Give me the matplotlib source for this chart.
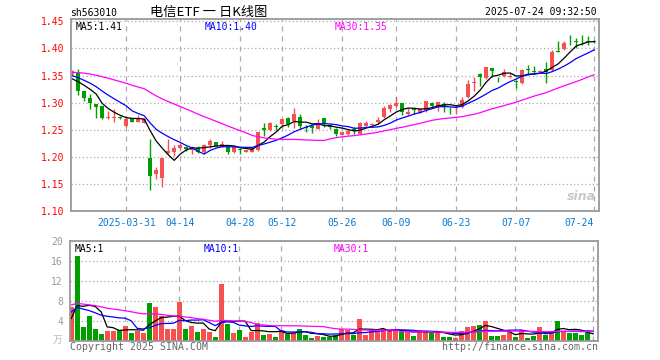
import numpy as np
import pandas as pd
import matplotlib
matplotlib.use("Agg")
import matplotlib.pyplot as plt

plt.rcParams['font.family'] = ['DejaVu Sans Mono', 'Noto Sans CJK SC']

# ---- data ----
code = "sh563010"
title = "电信ETF 一 日K线图"
stamp = "2025-07-24 09:32:50"

opens = [
    1.353, 1.356, 1.321, 1.309, 1.2975, 1.2939, 1.2719, 1.2725, 1.2737, 1.2573,
    1.2725, 1.2640, 1.2616, 1.1987, 1.1689, 1.1603, 1.2067, 1.2091, 1.2170, 1.2177,
    1.2128, 1.2170, 1.2097, 1.2219, 1.2280, 1.2189, 1.2189, 1.2097, 1.2140, 1.2091,
    1.2097, 1.2134, 1.2527, 1.2497, 1.2570, 1.2606, 1.2709, 1.2667, 1.2727, 1.2558,
    1.2570, 1.2515, 1.2709, 1.2588, 1.2509, 1.2394, 1.2424, 1.2509, 1.2424, 1.2576,
    1.2588, 1.2649, 1.2727, 1.2891, 1.2939, 1.2994, 1.2782, 1.2903, 1.2812, 1.2873,
    1.2994, 1.2917, 1.2978, 1.2917, 1.2905, 1.2917, 1.3100, 1.3370, 1.3529, 1.3449,
    1.3633, 1.3455, 1.3498, 1.3476, 1.3382, 1.3357, 1.3605, 1.3575, 1.3566, 1.3615,
    1.3602, 1.3936, 1.3982, 1.4138, 1.4125, 1.4138, 1.4125, 1.4130]
closes = [
    1.358, 1.321, 1.309, 1.2994, 1.292, 1.2719, 1.2737, 1.2737, 1.2719, 1.2707,
    1.2646, 1.2725, 1.2689, 1.1640, 1.1762, 1.1987, 1.2115, 1.2171, 1.2219, 1.2140,
    1.2177, 1.2097, 1.2219, 1.2292, 1.2201, 1.2237, 1.2097, 1.2177, 1.2128, 1.2128,
    1.2158, 1.2457, 1.2497, 1.2630, 1.2545, 1.2697, 1.2600, 1.2788, 1.2576, 1.2539,
    1.2539, 1.2618, 1.2606, 1.2558, 1.2418, 1.2449, 1.2485, 1.2479, 1.2618, 1.2630,
    1.2600, 1.2679, 1.2897, 1.2958, 1.2994, 1.2830, 1.2824, 1.2873, 1.2885, 1.3024,
    1.2930, 1.3009, 1.2941, 1.2911, 1.2917, 1.3051, 1.3345, 1.3376, 1.3468, 1.3651,
    1.3590, 1.3449, 1.3559, 1.3486, 1.3376, 1.3602, 1.3598, 1.3569, 1.3572, 1.3572,
    1.3939, 1.3930, 1.4104, 1.4132, 1.4120, 1.4132, 1.4120, 1.4128]
highs = [
    1.360, 1.362, 1.321, 1.3152, 1.2975, 1.2939, 1.2847, 1.2890, 1.2750, 1.2756,
    1.2725, 1.2768, 1.2725, 1.2329, 1.1811, 1.1987, 1.2335, 1.2213, 1.2249, 1.2201,
    1.2201, 1.2201, 1.2231, 1.2323, 1.2280, 1.2298, 1.2189, 1.2177, 1.2152, 1.2130,
    1.2160, 1.2457, 1.2618, 1.2649, 1.2600, 1.2697, 1.2727, 1.2909, 1.2788, 1.2588,
    1.2606, 1.2697, 1.2721, 1.2606, 1.2527, 1.2449, 1.2509, 1.2545, 1.2649, 1.2661,
    1.2630, 1.2727, 1.2933, 1.2982, 1.3103, 1.2994, 1.2909, 1.2909, 1.2903, 1.3024,
    1.3021, 1.3009, 1.3003, 1.2917, 1.2960, 1.3113, 1.3419, 1.3468, 1.3541, 1.3664,
    1.3633, 1.3480, 1.3615, 1.3541, 1.3419, 1.3615, 1.3688, 1.3676, 1.3602, 1.3755,
    1.3969, 1.4135, 1.4135, 1.4257, 1.4196, 1.4245, 1.4227, 1.4160]
lows = [
    1.351, 1.315, 1.303, 1.2884, 1.2719, 1.2690, 1.2707, 1.2646, 1.2700, 1.2554,
    1.2646, 1.2634, 1.2616, 1.1384, 1.1591, 1.1439, 1.2055, 1.2018, 1.2152, 1.2116,
    1.2055, 1.2079, 1.2049, 1.2158, 1.2201, 1.2176, 1.2049, 1.2067, 1.2049, 1.2080,
    1.2085, 1.2110, 1.2388, 1.2485, 1.2497, 1.2558, 1.2558, 1.2527, 1.2509, 1.2455,
    1.2442, 1.2509, 1.2558, 1.2509, 1.2376, 1.2394, 1.2406, 1.2418, 1.2418, 1.2558,
    1.2545, 1.2600, 1.2715, 1.2830, 1.2921, 1.2770, 1.2764, 1.2782, 1.2800, 1.2830,
    1.2916, 1.2837, 1.2825, 1.2789, 1.2789, 1.2899, 1.3082, 1.3223, 1.3315, 1.3431,
    1.3468, 1.3376, 1.3480, 1.3449, 1.3266, 1.3345, 1.3511, 1.3529, 1.3559, 1.3357,
    1.3590, 1.3930, 1.3969, 1.4061, 1.4012, 1.4061, 1.4061, 1.4100]
# volume, 万
vols = [
    6.9, 17.1, 2.9, 5.1, 2.5, 1.5, 2.1, 2.1, 2.3, 3.1,
    1.7, 2.0, 1.7, 7.7, 6.9, 5.1, 2.5, 2.5, 7.9, 2.5,
    3.1, 1.9, 2.5, 1.9, 0.9, 11.5, 3.5, 1.7, 2.3, 0.9,
    1.9, 3.7, 1.3, 1.5, 0.9, 2.3, 1.5, 1.7, 2.5, 1.3,
    0.7, 1.1, 0.9, 0.8, 1.3, 2.5, 2.3, 1.3, 4.5, 1.3,
    2.3, 1.9, 2.5, 2.1, 2.1, 1.9, 1.9, 1.1, 2.3, 1.9,
    1.7, 1.7, 0.9, 0.9, 0.7, 2.1, 2.9, 3.1, 3.3, 4.1,
    1.1, 1.1, 1.3, 1.9, 0.9, 2.3, 0.7, 1.1, 2.9, 1.3,
    2.1, 4.1, 2.1, 1.7, 1.7, 1.3, 2.1, 0.3]

# sessions before the first visible candle (only feed the moving averages)
prior_close = [
    1.335, 1.342, 1.350, 1.356, 1.352, 1.360, 1.366, 1.362, 1.370, 1.374,
    1.368, 1.362, 1.365, 1.371, 1.366, 1.358, 1.355, 1.361, 1.353, 1.354,
    1.360, 1.358, 1.352, 1.356, 1.353, 1.348, 1.342, 1.337, 1.335]
prior_vol = [
    6.5, 8.2, 9.5, 7.1, 8.8, 10.2, 7.4, 6.8, 8.9, 7.5,
    9.1, 6.9, 7.7, 8.4, 7.2, 8.0, 6.6, 7.9, 8.3, 7.0,
    7.8, 6.4, 8.1, 6.9, 6.3, 4.2, 3.6, 4.1, 3.7]

date_pos = [9, 18, 28, 35, 45, 54, 64, 74, 87]
date_labels = ["2025-03-31", "04-14", "04-28", "05-12", "05-26",
               "06-09", "06-23", "07-07", "07-24"]
price_ticks = [1.10, 1.15, 1.20, 1.25, 1.30, 1.35, 1.40, 1.45]
vol_ticks = [4, 8, 12, 16, 20]

RED = '#f65050'
GREEN = '#009f00'
GRID = '#aaaaaa'
FRAME = '#999999'

n = len(closes)
x = np.arange(n)
o = np.array(opens); c = np.array(closes)
h = np.array(highs); l = np.array(lows)
v = np.array(vols)
up = c >= o
cols = np.where(up, RED, GREEN)

def ma(prior, vals, k):
    s = pd.Series(list(prior) + list(vals)).rolling(k).mean()
    return s.iloc[len(prior):].to_numpy()

fig = plt.figure(figsize=(6.6, 3.6), dpi=100)
ax = fig.add_axes([71/660, 1 - 211/360, 528/660, 192/360])
axv = fig.add_axes([70/660, 1 - 341/360, 528/660, 100/360])

# ---- price panel ----
ax.vlines(x, l, h, colors=cols, linewidth=1)
body = np.maximum(np.abs(c - o), 0.0015)
ax.bar(x, body, bottom=np.minimum(o, c), width=0.72, color=cols, linewidth=0)
ax.plot(x, ma(prior_close, closes, 5), color='black', lw=0.9)
ax.plot(x, ma(prior_close, closes, 10), color='#0000ff', lw=0.9)
ax.plot(x, ma(prior_close, closes, 30), color='#ff00ff', lw=0.9)

ax.set_xlim(-0.2, 87.8)
ax.set_ylim(1.10, 1.4544)
ax.set_yticks(price_ticks)
ax.set_yticklabels([f"{t:.2f}" for t in price_ticks], color='red', fontsize=7)
ax.set_xticks(date_pos)
ax.set_xticklabels(date_labels, color='#0a7ad0', fontsize=7)
ax.get_xticklabels()[-1].set_horizontalalignment('right')
ax.tick_params(length=0, pad=5)
ax.grid(axis='y', linestyle=(0, (1, 2)), color=GRID, lw=0.9)
ax.grid(axis='x', linestyle=(0, (4, 4)), color=GRID, lw=0.9)
ax.set_axisbelow(True)
for s in ax.spines.values():
    s.set_color(FRAME); s.set_linewidth(1.3)

ax.text(0.008, 0.985, "MA5:%.2f" % ma(prior_close, closes, 5)[-1], transform=ax.transAxes,
        color='black', fontsize=7, va='top')
ax.text(0.253, 0.985, "MA10:%.2f" % ma(prior_close, closes, 10)[-1], transform=ax.transAxes,
        color='#0000ff', fontsize=7, va='top')
ax.text(0.5, 0.985, "MA30:%.2f" % ma(prior_close, closes, 30)[-1], transform=ax.transAxes,
        color='#ff00ff', fontsize=7, va='top')
ax.text(0.995, 0.04, "sina", transform=ax.transAxes, color='#c8c8c8', fontsize=9,
        style='italic', fontweight='bold', ha='right', va='bottom', family='DejaVu Sans')

fig.text(70/660, 1 - 13/360, code, fontsize=7, va='center')
fig.text(209/660, 1 - 12/360, title, fontsize=9.5, va='center', ha='center',
         family=['Noto Sans CJK SC', 'DejaVu Sans'])
fig.text(597/660, 1 - 12/360, stamp, fontsize=7, va='center', ha='right')

# ---- volume panel ----
axv.bar(x, v, width=0.8, color=cols, linewidth=0)
axv.plot(x, ma(prior_vol, vols, 5), color='black', lw=0.9)
axv.plot(x, ma(prior_vol, vols, 10), color='#0000ff', lw=0.9)
axv.plot(x, ma(prior_vol, vols, 30), color='#ff00ff', lw=0.9)
axv.set_xlim(-0.2, 87.8)
axv.set_ylim(0, 20)
axv.set_yticks(vol_ticks)
axv.set_yticklabels([str(t) for t in vol_ticks], color='#999999', fontsize=7)
axv.set_xticks(date_pos)
axv.set_xticklabels([])
axv.tick_params(length=0, pad=5)
axv.grid(axis='y', linestyle=(0, (1, 2)), color=GRID, lw=0.9)
axv.grid(axis='x', linestyle=(0, (4, 4)), color=GRID, lw=0.9)
axv.set_axisbelow(True)
for s in axv.spines.values():
    s.set_color(FRAME); s.set_linewidth(1.3)

axv.text(0.008, 0.97, "MA5:%d" % ma(prior_vol, vols, 5)[-1], transform=axv.transAxes,
         color='black', fontsize=7, va='top')
axv.text(0.253, 0.97, "MA10:%d" % ma(prior_vol, vols, 10)[-1], transform=axv.transAxes,
         color='#0000ff', fontsize=7, va='top')
axv.text(0.5, 0.97, "MA30:%d" % ma(prior_vol, vols, 30)[-1], transform=axv.transAxes,
         color='#ff00ff', fontsize=7, va='top')

fig.text(58/660, 1 - 340/360, "万", fontsize=7, color='#bbbbbb', ha='center', va='center',
         family=['Noto Sans CJK SC'])
fig.text(70/660, 1 - 347/360, "Copyright 2025 SINA.COM", fontsize=7.1, color='#666666', va='center')
fig.text(598/660, 1 - 347/360, "http://finance.sina.com.cn", fontsize=7.1, color='#666666',
         va='center', ha='right')

fig.savefig("out.png", dpi=100)
